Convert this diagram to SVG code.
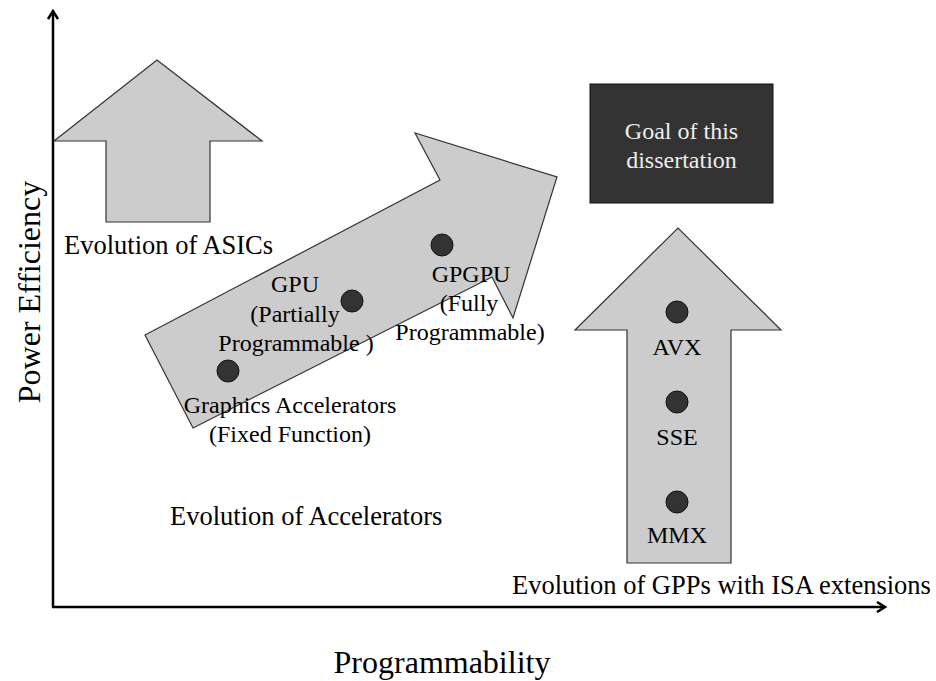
<svg xmlns="http://www.w3.org/2000/svg" width="936" height="681" viewBox="0 0 936 681">
<defs>
<style>
.big{fill:#cccccc;stroke:#333333;stroke-width:1.2}
.dot{fill:#333333;stroke:#111111;stroke-width:1}
text{font-family:'Liberation Serif','Times New Roman',serif;fill:#000}
.lbl{font-size:24px}
.evo{font-size:26.5px}
.axl{font-size:32px}
.light{fill:#eeeeee}
.axis{stroke:#000;stroke-width:2.5;fill:none}
</style>
<marker id="ah" viewBox="0 0 12 12" refX="10" refY="6" markerWidth="12" markerHeight="12" markerUnits="userSpaceOnUse" orient="auto">
<path d="M2,1 L10,6 L2,11" fill="none" stroke="#000" stroke-width="2.5"/>
</marker>
</defs>
<rect width="936" height="681" fill="#fff"/>

<g id="connectors">
<line class="axis" x1="53" y1="607" x2="53" y2="11" marker-end="url(#ah)"/>
<line class="axis" x1="52" y1="607" x2="885" y2="607" marker-end="url(#ah)"/>
</g>

<g id="asic">
<polygon class="big" points="54,141 157,60 262,141 210,141 210,222 106,222 106,141"/>
<text class="evo" x="64" y="254">Evolution of ASICs</text>
</g>

<g id="accelerators">
<polygon class="big" points="145,335 440,180 415,133 557,177 513,318 492,277 193,428"/>
<text class="evo" x="170" y="525">Evolution of Accelerators</text>
</g>

<g id="graphics-accel">
<circle class="dot" cx="228" cy="371" r="11"/>
<text class="lbl" text-anchor="middle" x="290" y="413">Graphics Accelerators</text>
<text class="lbl" text-anchor="middle" x="290" y="442">(Fixed Function)</text>
</g>

<g id="gpu">
<circle class="dot" cx="352" cy="301" r="11"/>
<text class="lbl" text-anchor="middle" x="295" y="292">GPU</text>
<text class="lbl" text-anchor="middle" x="295" y="322">(Partially</text>
<text class="lbl" text-anchor="middle" x="296" y="351">Programmable )</text>
</g>

<g id="gpgpu">
<circle class="dot" cx="442" cy="245" r="11"/>
<text class="lbl" text-anchor="middle" x="471" y="282">GPGPU</text>
<text class="lbl" text-anchor="middle" x="469" y="311">(Fully</text>
<text class="lbl" text-anchor="middle" x="470" y="340">Programmable)</text>
</g>

<g id="goal">
<rect x="590" y="84" width="183" height="119" fill="#333333" stroke="#111" stroke-width="1"/>
<text class="lbl light" text-anchor="middle" x="681.5" y="139">Goal of this</text>
<text class="lbl light" text-anchor="middle" x="681.5" y="168">dissertation</text>
</g>

<g id="gpp">
<polygon class="big" points="575,330 678,228 781,330 731,330 731,563 627,563 627,330"/>
<text class="evo" x="512" y="594">Evolution of GPPs with ISA extensions</text>
</g>

<g id="avx">
<circle class="dot" cx="677" cy="312" r="11"/>
<text class="lbl" text-anchor="middle" x="677" y="355">AVX</text>
</g>
<g id="sse">
<circle class="dot" cx="677" cy="402" r="11"/>
<text class="lbl" text-anchor="middle" x="677" y="445">SSE</text>
</g>
<g id="mmx">
<circle class="dot" cx="677" cy="502" r="11"/>
<text class="lbl" text-anchor="middle" x="677" y="543">MMX</text>
</g>

<g id="axis-labels">
<text class="axl" text-anchor="middle" x="442" y="673">Programmability</text>
<text class="axl" text-anchor="middle" transform="translate(40,292) rotate(-90)">Power Efficiency</text>
</g>
</svg>
